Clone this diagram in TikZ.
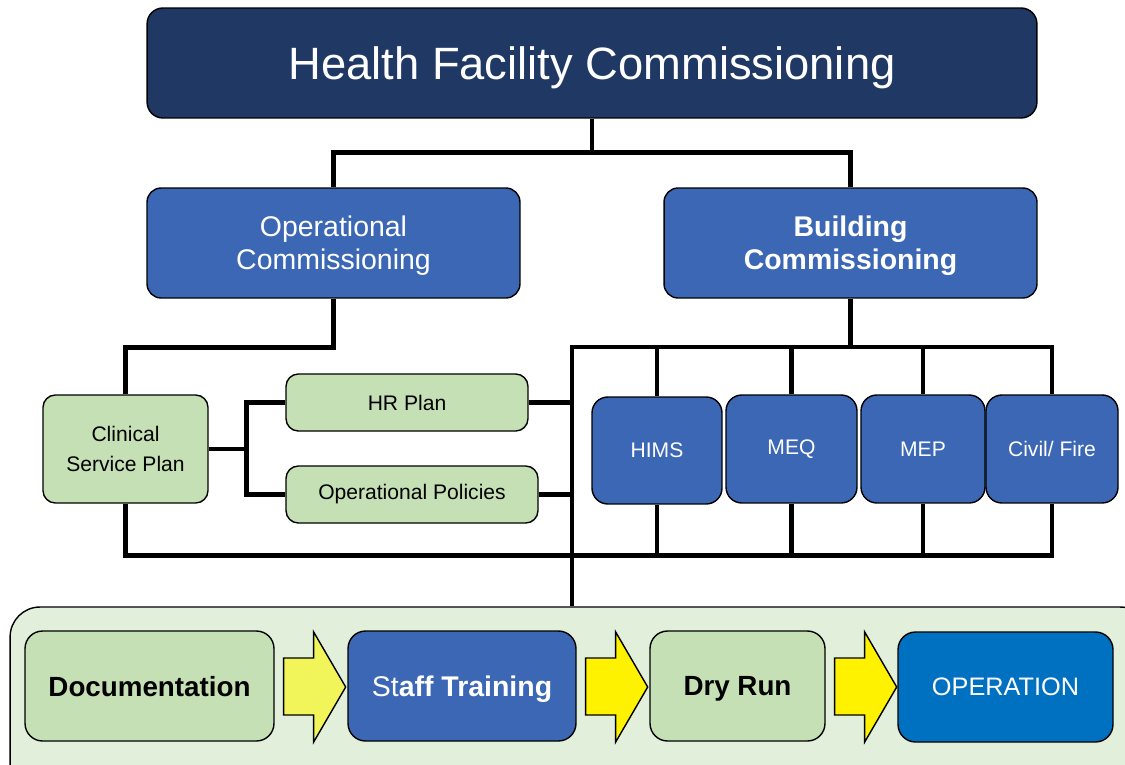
\documentclass[tikz,border=0pt]{standalone}
\usepackage{xcolor}
\usepackage{fontspec}
\setmainfont{Liberation Sans}
\usepackage{tikz}
\usetikzlibrary{shapes, arrows.meta, positioning}
\usetikzlibrary{calc}

\definecolor{navyfill}{RGB}{32,56,100}
\definecolor{bluefill}{RGB}{59,103,180}
\definecolor{greenfill}{RGB}{197,224,180}
\definecolor{stagefill}{RGB}{226,239,218}
\definecolor{opfill}{RGB}{0,112,192}
\definecolor{palearrow}{RGB}{242,245,90}

\begin{document}
\begin{tikzpicture}
  [
    x=0.02cm, y=-0.02cm,
    Navy/.style={rectangle, rounded corners=9pt, draw=black, fill=navyfill, text=white, line width=0.8pt, minimum width=17.8cm, minimum height=2.2cm, text depth=0pt, font=\fontsize{25.8}{30}\selectfont},
    Blue/.style={rectangle, rounded corners=8pt, draw=black, fill=bluefill, text=white, line width=0.8pt, minimum width=7.46cm, minimum height=2.2cm, align=center, text depth=0pt, font=\fontsize{16.2}{18.8}\selectfont},
    BlueBold/.style={Blue, font=\fontsize{16.2}{18.8}\selectfont\bfseries},
    BlueSmall/.style={rectangle, rounded corners=9pt, draw=black, fill=bluefill, text=white, line width=0.8pt, minimum height=2.16cm, font=\fontsize{12}{14}\selectfont},
    GreenSmall/.style={rectangle, rounded corners=7pt, draw=black, fill=greenfill, line width=0.8pt, align=center, font=\fontsize{12}{17}\selectfont},
    GreenBig/.style={rectangle, rounded corners=10pt, draw=black, fill=greenfill, line width=0.8pt, minimum height=2.2cm, text depth=0pt, font=\fontsize{15.8}{18}\selectfont\bfseries},
    BlueBig/.style={rectangle, rounded corners=10pt, draw=black, fill=bluefill, text=white, line width=0.8pt, minimum height=2.2cm, text depth=0pt, font=\fontsize{16.2}{18}\selectfont},
    Ocean/.style={rectangle, rounded corners=10pt, draw=black, fill=opfill, text=white, line width=0.8pt, minimum width=4.3cm, minimum height=2.2cm, font=\fontsize{14.4}{17}\selectfont},
    Stage/.style={rectangle, rounded corners=17pt, draw=black, fill=stagefill, line width=0.8pt, minimum width=22.8cm, minimum height=3.72cm},
    Wire/.style={draw=black, line width=2.6pt}
  ]
  \useasboundingbox (0,0) rectangle (1125,764);
  \clip (0,0) rectangle (1125,764);

  % Nodes
  \node[Navy] (title) at (592, 63) {Health Facility Commissioning};
  \node[Blue] (opcomm) at (333.5, 243) {Operational\\Commissioning};
  \node[BlueBold] (bldcomm) at (850.5, 243) {Building\\Commissioning};

  \node[GreenSmall, minimum width=3.3cm, minimum height=2.16cm] (csp) at (125.5, 449) {Clinical\\Service Plan};
  \node[GreenSmall, minimum width=4.84cm, minimum height=1.14cm] (hr) at (407, 402.5) {HR Plan};
  \node[GreenSmall, minimum width=5.04cm, minimum height=1.14cm] (oppol) at (412, 494.5) {Operational Policies};

  \node[BlueSmall, minimum width=2.6cm, minimum height=2.14cm] (hims) at (657, 450.5) {HIMS};
  \node[BlueSmall, minimum width=2.62cm] (meq) at (791.5, 449) {MEQ};
  \node[BlueSmall, minimum width=2.48cm] (mep) at (923, 449) {MEP};
  \node[BlueSmall, minimum width=2.64cm] (civil) at (1052, 449) {Civil/ Fire};

  \node[Stage] (stage) at (580, 700) {};
  \node[GreenBig, minimum width=4.98cm] (doc) at (149.5, 686) {Documentation};
  \node[BlueBig, minimum width=4.56cm] (staff) at (462, 686) {St\textbf{aff Training}};
  \node[GreenBig, minimum width=3.5cm] (dry) at (737.5, 686) {Dry Run};
  \node[Ocean] (oper) at (1005.5, 687) {OPERATION};

  \coordinate (jt) at (572, 347);

  % Lines
  \path [Wire] (title.south) -- ++(0,35);
  \path [Wire] (opcomm.north) -- ++(0,-35) -| (bldcomm.north);
  \path [Wire] (opcomm.south) -- ++(0,49) -| (csp.north);
  \path [Wire] (csp.east) -- ++(38,0);
  \path [Wire] (hr.west) -| ($(csp.east)+(38,0)$) |- (oppol.west);
  \path [Wire] (hr.east) -- (hr.east -| jt);
  \path [Wire] (oppol.east) -- (oppol.east -| jt);
  \path [Wire] (jt |- stage.north) -- (jt) -| (civil.north);
  \path [Wire] (bldcomm.south) -- (bldcomm.south |- jt);
  \path [Wire] (hims.north) -- (hims.north |- jt);
  \path [Wire] (meq.north) -- (meq.north |- jt);
  \path [Wire] (mep.north) -- (mep.north |- jt);
  \path [Wire] (csp.south) -- ++(0,52) coordinate (lb) -| (civil.south);
  \path [Wire] (hims.south) -- (hims.south |- lb);
  \path [Wire] (meq.south) -- (meq.south |- lb);
  \path [Wire] (mep.south) -- (mep.south |- lb);

  % Block arrows
  \foreach \a/\ac in {doc/palearrow, staff/yellow, dry/yellow}
    \path [draw, fill=\ac, line width=0.8pt] ($(\a.east)+(9,-28)$) -- ++(30,0) -- ++(0,-26) -- ++(32,55) -- ++(-32,55) -- ++(0,-27) -- ++(-30,0) -- cycle;

\end{tikzpicture}
\end{document}
